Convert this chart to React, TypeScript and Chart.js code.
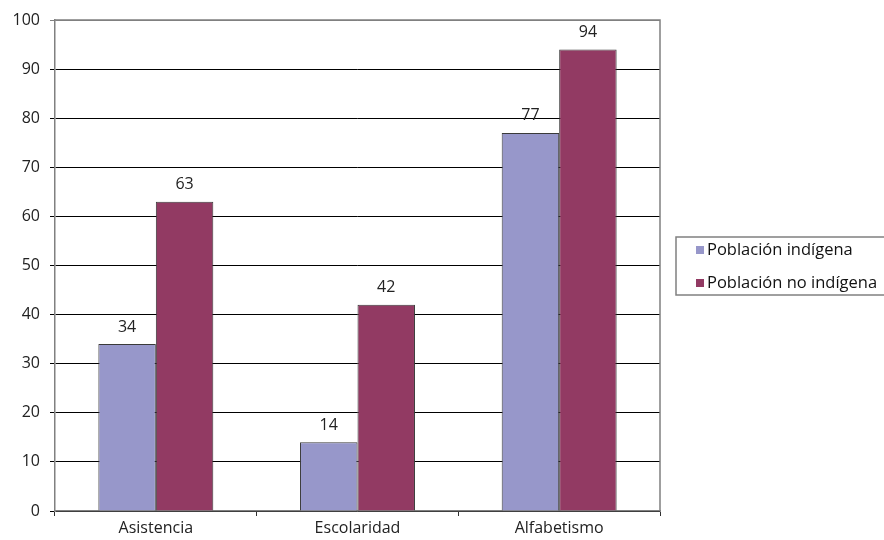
import React, { useEffect, useRef } from "react";
import { Chart, registerables } from "chart.js";

Chart.register(...registerables);

const categories = ["Asistencia", "Escolaridad", "Alfabetismo"];
const seriesNames = ["Población indígena", "Población no indígena"];
const indigena = [34, 14, 77];
const noIndigena = [63, 42, 94];
const yTicks = [0, 10, 20, 30, 40, 50, 60, 70, 80, 90, 100];

const colors = ["#9797CA", "#923A63"];
const FONT = "'Open Sans', 'DejaVu Sans', sans-serif";

const labelsPlugin = {
  id: "valueLabels",
  afterDatasetsDraw(chart: any) {
    const ctx = chart.ctx;
    ctx.save();
    ctx.font = `16px ${FONT}`;
    ctx.fillStyle = "#222";
    ctx.textAlign = "center";
    ctx.textBaseline = "middle";
    chart.data.datasets.forEach((ds: any, i: number) => {
      const meta = chart.getDatasetMeta(i);
      meta.data.forEach((el: any, j: number) => {
        ctx.fillText(String(ds.data[j]), el.x, el.y - 17);
      });
    });
    ctx.restore();
  },
};

const framePlugin = {
  id: "frame",
  afterDraw(chart: any) {
    const ctx = chart.ctx;
    const a = chart.chartArea;
    ctx.save();
    ctx.strokeStyle = "#808080";
    ctx.lineWidth = 1.5;
    ctx.beginPath();
    ctx.moveTo(a.left, a.top);
    ctx.lineTo(a.right, a.top);
    ctx.lineTo(a.right, a.bottom);
    ctx.stroke();

    // legend
    const lx = 676, ly = 237, lw = 220, lh = 58;
    ctx.strokeRect(lx, ly, lw, lh);
    ctx.font = `16.5px ${FONT}`;
    ctx.textBaseline = "middle";
    ctx.textAlign = "left";
    chart.data.datasets.forEach((ds: any, i: number) => {
      const cy = 250 + i * 33;
      ctx.fillStyle = ds.backgroundColor;
      ctx.fillRect(696, cy - 4, 8, 8);
      ctx.fillStyle = "#111";
      ctx.fillText(ds.label, 707, cy);
    });
    ctx.restore();
  },
};

export default function App() {
  const ref = useRef<HTMLCanvasElement>(null);
  useEffect(() => {
    if (!ref.current) return;
    const chart = new Chart(ref.current, {
      type: "bar",
      data: {
        labels: categories,
        datasets: [
          {
            label: seriesNames[0],
            data: indigena,
            backgroundColor: colors[0],
            borderColor: "#3a3a3a",
            borderWidth: 1,
          },
          {
            label: seriesNames[1],
            data: noIndigena,
            backgroundColor: colors[1],
            borderColor: "#3a3a3a",
            borderWidth: 1,
          },
        ],
      },
      options: {
        responsive: false,
        animation: false,
        layout: { padding: { left: 0, top: 20, right: 224, bottom: 0 } },
        datasets: { bar: { barPercentage: 1, categoryPercentage: 0.57 } },
        plugins: { legend: { display: false }, tooltip: { enabled: false } },
        scales: {
          x: {
            grid: {
              offset: true,
              drawOnChartArea: false,
              drawTicks: true,
              tickLength: 5,
              color: "#303030",
            },
            border: { display: true, color: "#808080", width: 1.5 },
            ticks: { font: { family: FONT, size: 16 }, color: "#222", padding: 3 },
            afterFit(scale: any) {
              scale.height = 29;
            },
          },
          y: {
            min: 0,
            max: 100,
            afterBuildTicks(scale: any) {
              scale.ticks = yTicks.map((v) => ({ value: v }));
            },
            grid: {
              color: (c: any) => (c.tick && c.tick.value === 100 ? "#808080" : "#000"),
              lineWidth: 1,
              tickLength: 5,
            },
            border: { display: true, color: "#808080", width: 1.5 },
            ticks: { font: { family: FONT, size: 16 }, color: "#222", padding: 10 },
            afterFit(scale: any) {
              scale.width = 55;
            },
          },
        },
      },
      plugins: [labelsPlugin, framePlugin],
    });
    return () => chart.destroy();
  }, []);
  return (
    <div style={{ position: "absolute", left: 0, top: 0, width: 884, height: 540, background: "#fff" }}>
      <canvas ref={ref} width={884} height={540} />
    </div>
  );
}
